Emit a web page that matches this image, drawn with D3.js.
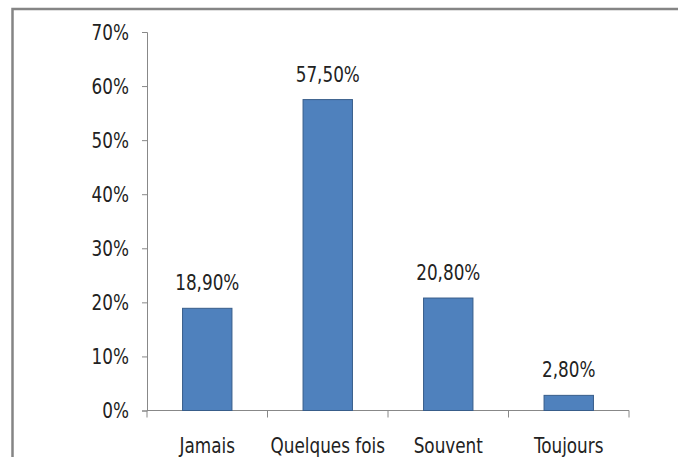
<!DOCTYPE html>
<html>
<head>
<meta charset="utf-8">
<script src="https://cdn.jsdelivr.net/npm/d3@7"></script>
<style>
  body { margin: 0; background: #fff; }
  text { font-family: "DejaVu Sans Condensed", "Liberation Sans Narrow", sans-serif; fill: #222; }
</style>
</head>
<body>
<svg id="chart" width="678" height="457"></svg>
<script>
// Chart data
const categories = ["Jamais", "Quelques fois", "Souvent", "Toujours"];
const values = [18.9, 57.5, 20.8, 2.8];
const valueLabels = ["18,90%", "57,50%", "20,80%", "2,80%"];
const yTicks = [0, 10, 20, 30, 40, 50, 60, 70];

const fontSize = 21.5;
const squeeze = 0.87; // narrow the glyphs horizontally

const svg = d3.select("#chart");

// outer frame (only left and top edges visible in the picture)
svg.append("rect")
  .attr("x", 12.5)
  .attr("y", 9)
  .attr("width", 700)
  .attr("height", 500)
  .attr("fill", "none")
  .attr("stroke", "#858585")
  .attr("stroke-width", 2.5);

const margin = { left: 147, top: 32 };
const plotRight = 629;
const plotBottom = 410.5;

const xScale = d3.scaleBand()
  .domain(categories)
  .range([margin.left, plotRight])
  .paddingInner(0.59)
  .paddingOuter(0.295);

const yScale = d3.scaleLinear()
  .domain([0, 70])
  .range([plotBottom, margin.top]);

// place a squeezed text at x, y
function squeezed(sel, x, y) {
  sel.attr("transform", (d, i) => `translate(${x(d, i)}, ${y(d, i)}) scale(${squeeze}, 1)`)
    .attr("font-size", fontSize);
}

// y axis
const yAxis = d3.axisLeft(yScale)
  .tickValues(yTicks)
  .tickFormat(d => d + "%")
  .tickSizeOuter(0)
  .tickSize(5);

const gy = svg.append("g")
  .attr("transform", `translate(${margin.left}, 0)`)
  .call(yAxis);
gy.select(".domain").attr("stroke", "#888");
gy.selectAll(".tick line").attr("stroke", "#888");
gy.selectAll(".tick text").remove();

svg.selectAll(".ylabel")
  .data(yTicks)
  .enter()
  .append("text")
  .attr("class", "ylabel")
  .attr("text-anchor", "end")
  .call(squeezed, () => 129, d => yScale(d) + 7.5)
  .text(d => d + "%");

// x axis line with tick marks at band boundaries
const gx = svg.append("g")
  .attr("transform", `translate(0, ${plotBottom})`);
gx.append("line")
  .attr("x1", margin.left).attr("x2", plotRight)
  .attr("stroke", "#888");
const bounds = d3.range(categories.length + 1).map(i => margin.left + i * (plotRight - margin.left) / categories.length);
gx.selectAll(".xtick")
  .data(bounds)
  .enter()
  .append("line")
  .attr("class", "xtick")
  .attr("x1", d => d).attr("x2", d => d)
  .attr("y1", 0).attr("y2", 7)
  .attr("stroke", "#888");

svg.selectAll(".xlabel")
  .data(categories)
  .enter()
  .append("text")
  .attr("class", "xlabel")
  .attr("text-anchor", "middle")
  .call(squeezed, d => xScale(d) + xScale.bandwidth() / 2, () => plotBottom + 42)
  .text(d => d);

// bars
svg.selectAll(".bar")
  .data(values)
  .enter()
  .append("rect")
  .attr("class", "bar")
  .attr("x", (d, i) => xScale(categories[i]))
  .attr("y", d => yScale(d))
  .attr("width", xScale.bandwidth())
  .attr("height", d => plotBottom - yScale(d))
  .attr("fill", "#4F81BD")
  .attr("stroke", "#385D8A")
  .attr("stroke-width", 1);

// value labels
svg.selectAll(".value-label")
  .data(values)
  .enter()
  .append("text")
  .attr("class", "value-label")
  .attr("text-anchor", "middle")
  .call(squeezed, (d, i) => xScale(categories[i]) + xScale.bandwidth() / 2, d => yScale(d) - 18)
  .text((d, i) => valueLabels[i]);
</script>
</body>
</html>
